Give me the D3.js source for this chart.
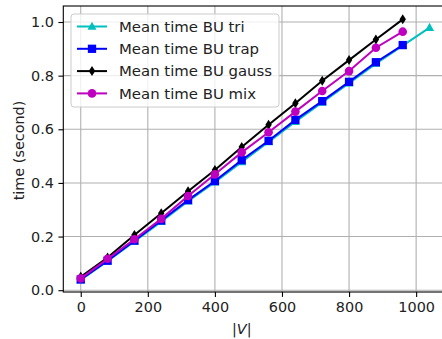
<!DOCTYPE html>
<html>
<head>
<meta charset="utf-8">
<script src="https://cdn.jsdelivr.net/npm/d3@7"></script>
<style>
  body { margin: 0; background: #fff; }
  svg { display: block; font-family: 'DejaVu Sans', sans-serif; }
</style>
</head>
<body>
<div id="chart"></div>
<script>
// |V| values
const sizes = [0, 80, 160, 240, 320, 400, 480, 560, 640, 720, 800, 880, 960, 1040];

// mean times (seconds)
const triTimes = [0.038, 0.108, 0.182, 0.255, 0.332, 0.403, 0.478, 0.553, 0.628, 0.700, 0.772, 0.845, 0.912, 0.979];
const trapTimes = [0.040, 0.110, 0.185, 0.260, 0.336, 0.407, 0.485, 0.557, 0.635, 0.705, 0.777, 0.850, 0.914];
const gaussTimes = [0.050, 0.122, 0.206, 0.287, 0.369, 0.448, 0.534, 0.617, 0.697, 0.781, 0.858, 0.935, 1.010];
const mixTimes = [0.044, 0.117, 0.190, 0.266, 0.351, 0.432, 0.514, 0.589, 0.666, 0.743, 0.817, 0.904, 0.964];

const seriesNames = ['Mean time BU tri', 'Mean time BU trap', 'Mean time BU gauss', 'Mean time BU mix'];
const seriesColors = ['#00bfbf', '#0000ff', '#000000', '#bf00bf'];
const seriesMarkers = ['triangle', 'square', 'thin_diamond', 'circle'];

const xTicks = [0, 200, 400, 600, 800, 1000];
const yTicks = [0.0, 0.2, 0.4, 0.6, 0.8, 1.0];

const allTimes = [triTimes, trapTimes, gaussTimes, mixTimes];

let svgW = 442, svgH = 339;
let margin = {top: 6, left: 63.3};
let plotRight = 447, plotBottom = 292;
let width = plotRight - margin.left;
let height = plotBottom - margin.top;

const svg = d3.select('#chart').append('svg')
    .attr('width', svgW)
    .attr('height', svgH);

let x = d3.scaleLinear().domain([-52, 1092]).range([0, width]);
let y = d3.scaleLinear().domain([-0.0067, 1.0597]).range([height, 0]);

const g = svg.append('g')
    .attr('transform', 'translate(' + margin.left + ',' + margin.top + ')');

// grid
g.append('g').selectAll('line').data(xTicks).enter().append('line')
    .attr('x1', function (d) { return x(d); })
    .attr('x2', function (d) { return x(d); })
    .attr('y1', 0).attr('y2', height)
    .attr('stroke', '#b0b0b0').attr('stroke-width', 1.1);
g.append('g').selectAll('line').data(yTicks).enter().append('line')
    .attr('y1', function (d) { return y(d); })
    .attr('y2', function (d) { return y(d); })
    .attr('x1', 0).attr('x2', width)
    .attr('stroke', '#b0b0b0').attr('stroke-width', 1.1);

// axes
const xAxis = d3.axisBottom(x).tickValues(xTicks).tickSize(4.9).tickPadding(4.5)
    .tickFormat(d3.format('d'));
const yAxis = d3.axisLeft(y).tickValues(yTicks).tickSize(4.9).tickPadding(4.5)
    .tickFormat(d3.format('.1f'));

const gx = g.append('g')
    .attr('transform', 'translate(0,' + height + ')')
    .call(xAxis);
const gy = g.append('g').call(yAxis);

[gx, gy].forEach(function (ax) {
  ax.select('.domain').remove();
  ax.selectAll('.tick line').attr('stroke', '#000').attr('stroke-width', 1.1);
  ax.selectAll('.tick text')
      .attr('font-family', 'DejaVu Sans')
      .attr('font-size', '14.4px')
      .attr('fill', '#222');
});

// spines (right one falls outside the figure)
g.append('rect')
    .attr('x', 0).attr('y', 0)
    .attr('width', width).attr('height', height)
    .attr('fill', 'none')
    .attr('stroke', '#000')
    .attr('stroke-width', 1.1);

// lines
const line = d3.line()
    .x(function (d) { return x(d.v); })
    .y(function (d) { return y(d.t); });

function markerPath(kind, s) {
  if (kind === 'triangle') {
    return 'M0,' + (-s * 0.62) + 'L' + (s * 0.58) + ',' + (s * 0.42) + 'L' + (-s * 0.58) + ',' + (s * 0.42) + 'Z';
  }
  if (kind === 'square') {
    const h = s * 0.5;
    return 'M' + (-h) + ',' + (-h) + 'H' + h + 'V' + h + 'H' + (-h) + 'Z';
  }
  if (kind === 'thin_diamond') {
    const hy = s * 0.5, hx = s * 0.32;
    return 'M0,' + (-hy) + 'L' + hx + ',0L0,' + hy + 'L' + (-hx) + ',0Z';
  }
  return d3.symbol().type(d3.symbolCircle).size(Math.PI * s * s / 4)();
}

const markerSizes = [7.8, 8.3, 10, 8.6];

allTimes.forEach(function (times, i) {
  const data = times.map(function (t, k) { return {v: sizes[k], t: t}; });
  const sg = g.append('g');
  sg.append('path')
      .datum(data)
      .attr('fill', 'none')
      .attr('stroke', seriesColors[i])
      .attr('stroke-width', 2)
      .attr('d', line);
  sg.selectAll('.pt').data(data).enter().append('path')
      .attr('class', 'pt')
      .attr('transform', function (d) { return 'translate(' + x(d.v) + ',' + y(d.t) + ')'; })
      .attr('d', markerPath(seriesMarkers[i], markerSizes[i]))
      .attr('fill', seriesColors[i]);
});

// axis labels
svg.append('text')
    .attr('x', margin.left + x(480))
    .attr('y', 334)
    .attr('text-anchor', 'middle')
    .attr('font-size', '14.4px')
    .attr('fill', '#222')
    .html('|<tspan font-style="italic">V</tspan>|');

svg.append('text')
    .attr('transform', 'translate(23.5,150.5) rotate(-90)')
    .attr('text-anchor', 'middle')
    .attr('font-size', '14.4px')
    .attr('fill', '#222')
    .text('time (second)');

// legend
const legend = svg.append('g').attr('transform', 'translate(71,14)');
legend.append('rect')
    .attr('width', 208).attr('height', 93)
    .attr('rx', 3)
    .attr('fill', 'rgba(255,255,255,0.8)')
    .attr('stroke', '#cccccc')
    .attr('stroke-width', 1);

seriesNames.forEach(function (name, i) {
  const row = legend.append('g').attr('transform', 'translate(0,' + (12.5 + i * 22.3) + ')');
  row.append('line')
      .attr('x1', 6).attr('x2', 36)
      .attr('stroke', seriesColors[i])
      .attr('stroke-width', 2);
  row.append('path')
      .attr('transform', 'translate(21,0)')
      .attr('d', markerPath(seriesMarkers[i], markerSizes[i]))
      .attr('fill', seriesColors[i]);
  row.append('text')
      .attr('x', 48).attr('y', 5.3)
      .attr('font-size', '14.9px')
      .attr('fill', '#222')
      .text(name);
});
</script>
</body>
</html>
